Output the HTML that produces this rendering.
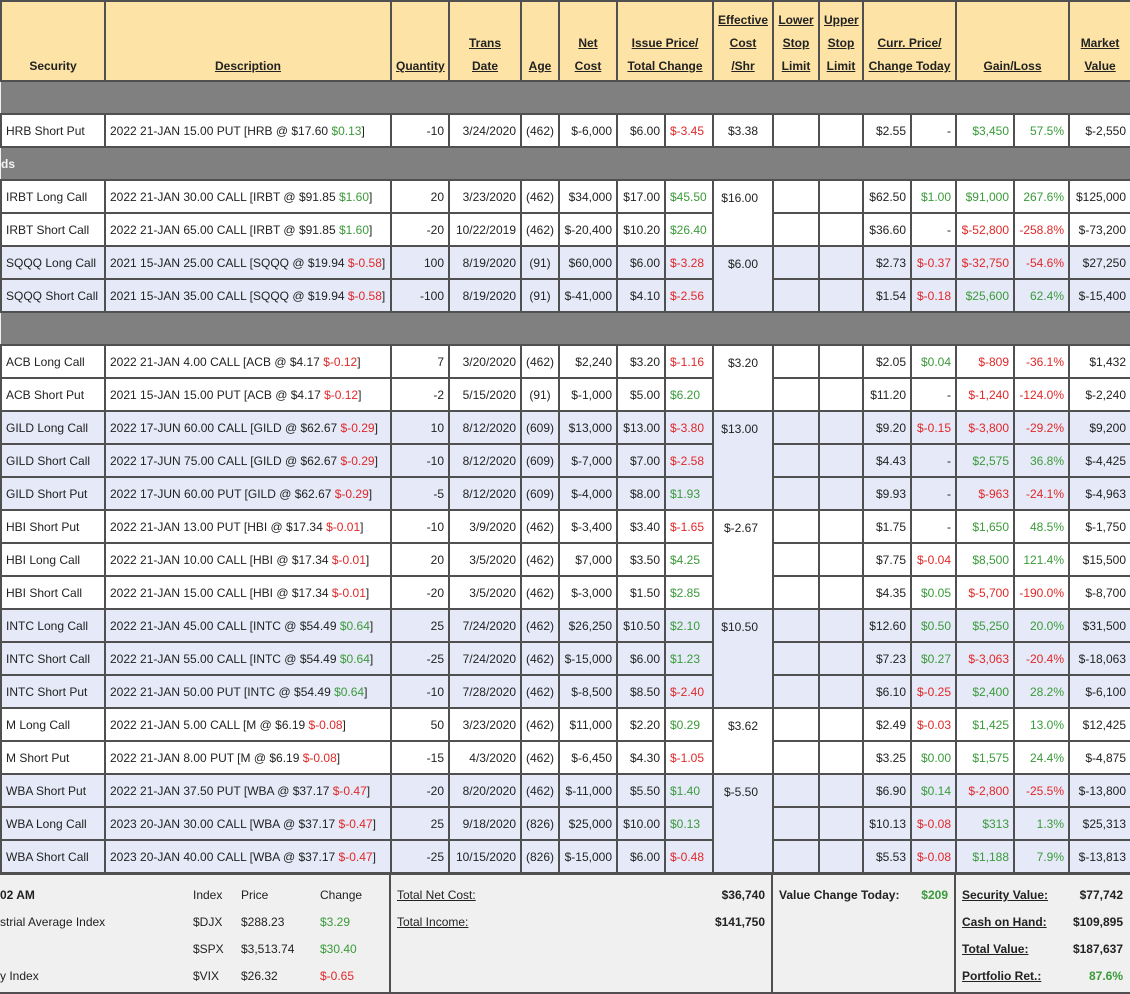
<!DOCTYPE html>
<html><head><meta charset="utf-8"><style>
body{margin:0;width:1130px;height:992px;overflow:hidden;background:#f0f0f0;font-family:"Liberation Sans",Arial,sans-serif;font-size:12px;color:#222}
table{border-collapse:collapse;table-layout:fixed;width:1130px;position:absolute;left:0;top:0}
td,th{border:2px solid #505050;padding:0 4px;height:31px;white-space:nowrap;overflow:hidden;background:#fff}
th{background:#fde3a6;height:76px;vertical-align:bottom;font-weight:bold;line-height:23px;padding-bottom:2px;text-align:center}
th u{text-decoration:underline}
tr.b td{background:#e6eaf8}
tr.s td{background:#808080;border-left:none;border-right:none;color:#f4f4f4;font-weight:bold;padding-left:0}
.r{text-align:right}.c{text-align:center}
.g{color:#3a9a3a}.n{color:#e02828}
td.e{vertical-align:top;padding-top:10px;text-align:right;padding-right:14px}
#f{position:absolute;left:0;top:873px;width:1130px;height:117px;border-top:2px solid #505050;border-bottom:2px solid #505050;background:#f0f0f0}
#f div{position:absolute;white-space:nowrap;line-height:14px}
.v{position:absolute;top:0;bottom:0;width:2px;background:#505050}
</style></head><body>
<table>
<colgroup><col style="width:104px"><col style="width:286px"><col style="width:58px"><col style="width:72px"><col style="width:38px"><col style="width:58px"><col style="width:48px"><col style="width:48px"><col style="width:60px"><col style="width:46px"><col style="width:44px"><col style="width:48px"><col style="width:45px"><col style="width:58px"><col style="width:55px"><col style="width:62px"></colgroup>
<tr><th>Security</th><th><u>Description</u></th><th><u>Quantity</u></th><th><u>Trans</u><br><u>Date</u></th><th><u>Age</u></th><th><u>Net</u><br><u>Cost</u></th><th colspan="2"><u>Issue Price/</u><br><u>Total Change</u></th><th><u>Effective</u><br><u>Cost</u><br><u>/Shr</u></th><th><u>Lower</u><br><u>Stop</u><br><u>Limit</u></th><th><u>Upper</u><br><u>Stop</u><br><u>Limit</u></th><th colspan="2"><u>Curr. Price/</u><br><u>Change Today</u></th><th colspan="2"><u>Gain/Loss</u></th><th><u>Market</u><br><u>Value</u></th></tr>
<tr class="s"><td colspan="16"></td></tr>
<tr><td>HRB Short Put</td><td>2022 21-JAN 15.00 PUT [HRB @ $17.60 <span class="g">$0.13</span>]</td><td class="r">-10</td><td class="r">3/24/2020</td><td class="c">(462)</td><td class="r">$-6,000</td><td class="r">$6.00</td><td class="n">$-3.45</td><td class="r" style="padding-right:14px">$3.38</td><td></td><td></td><td class="r">$2.55</td><td class="r">-</td><td class="r g">$3,450</td><td class="r g">57.5%</td><td class="r">$-2,550</td></tr>
<tr class="s"><td colspan="16">ds</td></tr>
<tr><td>IRBT Long Call</td><td>2022 21-JAN 30.00 CALL [IRBT @ $91.85 <span class="g">$1.60</span>]</td><td class="r">20</td><td class="r">3/23/2020</td><td class="c">(462)</td><td class="r">$34,000</td><td class="r">$17.00</td><td class="g">$45.50</td><td class="e" rowspan="2">$16.00</td><td></td><td></td><td class="r">$62.50</td><td class="r g">$1.00</td><td class="r g">$91,000</td><td class="r g">267.6%</td><td class="r">$125,000</td></tr>
<tr><td>IRBT Short Call</td><td>2022 21-JAN 65.00 CALL [IRBT @ $91.85 <span class="g">$1.60</span>]</td><td class="r">-20</td><td class="r">10/22/2019</td><td class="c">(462)</td><td class="r">$-20,400</td><td class="r">$10.20</td><td class="g">$26.40</td><td></td><td></td><td class="r">$36.60</td><td class="r">-</td><td class="r n">$-52,800</td><td class="r n">-258.8%</td><td class="r">$-73,200</td></tr>
<tr class="b"><td>SQQQ Long Call</td><td>2021 15-JAN 25.00 CALL [SQQQ @ $19.94 <span class="n">$-0.58</span>]</td><td class="r">100</td><td class="r">8/19/2020</td><td class="c">(91)</td><td class="r">$60,000</td><td class="r">$6.00</td><td class="n">$-3.28</td><td class="e" rowspan="2">$6.00</td><td></td><td></td><td class="r">$2.73</td><td class="r n">$-0.37</td><td class="r n">$-32,750</td><td class="r n">-54.6%</td><td class="r">$27,250</td></tr>
<tr class="b"><td>SQQQ Short Call</td><td>2021 15-JAN 35.00 CALL [SQQQ @ $19.94 <span class="n">$-0.58</span>]</td><td class="r">-100</td><td class="r">8/19/2020</td><td class="c">(91)</td><td class="r">$-41,000</td><td class="r">$4.10</td><td class="n">$-2.56</td><td></td><td></td><td class="r">$1.54</td><td class="r n">$-0.18</td><td class="r g">$25,600</td><td class="r g">62.4%</td><td class="r">$-15,400</td></tr>
<tr class="s"><td colspan="16"></td></tr>
<tr><td>ACB Long Call</td><td>2022 21-JAN 4.00 CALL [ACB @ $4.17 <span class="n">$-0.12</span>]</td><td class="r">7</td><td class="r">3/20/2020</td><td class="c">(462)</td><td class="r">$2,240</td><td class="r">$3.20</td><td class="n">$-1.16</td><td class="e" rowspan="2">$3.20</td><td></td><td></td><td class="r">$2.05</td><td class="r g">$0.04</td><td class="r n">$-809</td><td class="r n">-36.1%</td><td class="r">$1,432</td></tr>
<tr><td>ACB Short Put</td><td>2021 15-JAN 15.00 PUT [ACB @ $4.17 <span class="n">$-0.12</span>]</td><td class="r">-2</td><td class="r">5/15/2020</td><td class="c">(91)</td><td class="r">$-1,000</td><td class="r">$5.00</td><td class="g">$6.20</td><td></td><td></td><td class="r">$11.20</td><td class="r">-</td><td class="r n">$-1,240</td><td class="r n">-124.0%</td><td class="r">$-2,240</td></tr>
<tr class="b"><td>GILD Long Call</td><td>2022 17-JUN 60.00 CALL [GILD @ $62.67 <span class="n">$-0.29</span>]</td><td class="r">10</td><td class="r">8/12/2020</td><td class="c">(609)</td><td class="r">$13,000</td><td class="r">$13.00</td><td class="n">$-3.80</td><td class="e" rowspan="3">$13.00</td><td></td><td></td><td class="r">$9.20</td><td class="r n">$-0.15</td><td class="r n">$-3,800</td><td class="r n">-29.2%</td><td class="r">$9,200</td></tr>
<tr class="b"><td>GILD Short Call</td><td>2022 17-JUN 75.00 CALL [GILD @ $62.67 <span class="n">$-0.29</span>]</td><td class="r">-10</td><td class="r">8/12/2020</td><td class="c">(609)</td><td class="r">$-7,000</td><td class="r">$7.00</td><td class="n">$-2.58</td><td></td><td></td><td class="r">$4.43</td><td class="r">-</td><td class="r g">$2,575</td><td class="r g">36.8%</td><td class="r">$-4,425</td></tr>
<tr class="b"><td>GILD Short Put</td><td>2022 17-JUN 60.00 PUT [GILD @ $62.67 <span class="n">$-0.29</span>]</td><td class="r">-5</td><td class="r">8/12/2020</td><td class="c">(609)</td><td class="r">$-4,000</td><td class="r">$8.00</td><td class="g">$1.93</td><td></td><td></td><td class="r">$9.93</td><td class="r">-</td><td class="r n">$-963</td><td class="r n">-24.1%</td><td class="r">$-4,963</td></tr>
<tr><td>HBI Short Put</td><td>2022 21-JAN 13.00 PUT [HBI @ $17.34 <span class="n">$-0.01</span>]</td><td class="r">-10</td><td class="r">3/9/2020</td><td class="c">(462)</td><td class="r">$-3,400</td><td class="r">$3.40</td><td class="n">$-1.65</td><td class="e" rowspan="3">$-2.67</td><td></td><td></td><td class="r">$1.75</td><td class="r">-</td><td class="r g">$1,650</td><td class="r g">48.5%</td><td class="r">$-1,750</td></tr>
<tr><td>HBI Long Call</td><td>2022 21-JAN 10.00 CALL [HBI @ $17.34 <span class="n">$-0.01</span>]</td><td class="r">20</td><td class="r">3/5/2020</td><td class="c">(462)</td><td class="r">$7,000</td><td class="r">$3.50</td><td class="g">$4.25</td><td></td><td></td><td class="r">$7.75</td><td class="r n">$-0.04</td><td class="r g">$8,500</td><td class="r g">121.4%</td><td class="r">$15,500</td></tr>
<tr><td>HBI Short Call</td><td>2022 21-JAN 15.00 CALL [HBI @ $17.34 <span class="n">$-0.01</span>]</td><td class="r">-20</td><td class="r">3/5/2020</td><td class="c">(462)</td><td class="r">$-3,000</td><td class="r">$1.50</td><td class="g">$2.85</td><td></td><td></td><td class="r">$4.35</td><td class="r g">$0.05</td><td class="r n">$-5,700</td><td class="r n">-190.0%</td><td class="r">$-8,700</td></tr>
<tr class="b"><td>INTC Long Call</td><td>2022 21-JAN 45.00 CALL [INTC @ $54.49 <span class="g">$0.64</span>]</td><td class="r">25</td><td class="r">7/24/2020</td><td class="c">(462)</td><td class="r">$26,250</td><td class="r">$10.50</td><td class="g">$2.10</td><td class="e" rowspan="3">$10.50</td><td></td><td></td><td class="r">$12.60</td><td class="r g">$0.50</td><td class="r g">$5,250</td><td class="r g">20.0%</td><td class="r">$31,500</td></tr>
<tr class="b"><td>INTC Short Call</td><td>2022 21-JAN 55.00 CALL [INTC @ $54.49 <span class="g">$0.64</span>]</td><td class="r">-25</td><td class="r">7/24/2020</td><td class="c">(462)</td><td class="r">$-15,000</td><td class="r">$6.00</td><td class="g">$1.23</td><td></td><td></td><td class="r">$7.23</td><td class="r g">$0.27</td><td class="r n">$-3,063</td><td class="r n">-20.4%</td><td class="r">$-18,063</td></tr>
<tr class="b"><td>INTC Short Put</td><td>2022 21-JAN 50.00 PUT [INTC @ $54.49 <span class="g">$0.64</span>]</td><td class="r">-10</td><td class="r">7/28/2020</td><td class="c">(462)</td><td class="r">$-8,500</td><td class="r">$8.50</td><td class="n">$-2.40</td><td></td><td></td><td class="r">$6.10</td><td class="r n">$-0.25</td><td class="r g">$2,400</td><td class="r g">28.2%</td><td class="r">$-6,100</td></tr>
<tr><td>M Long Call</td><td>2022 21-JAN 5.00 CALL [M @ $6.19 <span class="n">$-0.08</span>]</td><td class="r">50</td><td class="r">3/23/2020</td><td class="c">(462)</td><td class="r">$11,000</td><td class="r">$2.20</td><td class="g">$0.29</td><td class="e" rowspan="2">$3.62</td><td></td><td></td><td class="r">$2.49</td><td class="r n">$-0.03</td><td class="r g">$1,425</td><td class="r g">13.0%</td><td class="r">$12,425</td></tr>
<tr><td>M Short Put</td><td>2022 21-JAN 8.00 PUT [M @ $6.19 <span class="n">$-0.08</span>]</td><td class="r">-15</td><td class="r">4/3/2020</td><td class="c">(462)</td><td class="r">$-6,450</td><td class="r">$4.30</td><td class="n">$-1.05</td><td></td><td></td><td class="r">$3.25</td><td class="r g">$0.00</td><td class="r g">$1,575</td><td class="r g">24.4%</td><td class="r">$-4,875</td></tr>
<tr class="b"><td>WBA Short Put</td><td>2022 21-JAN 37.50 PUT [WBA @ $37.17 <span class="n">$-0.47</span>]</td><td class="r">-20</td><td class="r">8/20/2020</td><td class="c">(462)</td><td class="r">$-11,000</td><td class="r">$5.50</td><td class="g">$1.40</td><td class="e" rowspan="3">$-5.50</td><td></td><td></td><td class="r">$6.90</td><td class="r g">$0.14</td><td class="r n">$-2,800</td><td class="r n">-25.5%</td><td class="r">$-13,800</td></tr>
<tr class="b"><td>WBA Long Call</td><td>2023 20-JAN 30.00 CALL [WBA @ $37.17 <span class="n">$-0.47</span>]</td><td class="r">25</td><td class="r">9/18/2020</td><td class="c">(826)</td><td class="r">$25,000</td><td class="r">$10.00</td><td class="g">$0.13</td><td></td><td></td><td class="r">$10.13</td><td class="r n">$-0.08</td><td class="r g">$313</td><td class="r g">1.3%</td><td class="r">$25,313</td></tr>
<tr class="b"><td>WBA Short Call</td><td>2023 20-JAN 40.00 CALL [WBA @ $37.17 <span class="n">$-0.47</span>]</td><td class="r">-25</td><td class="r">10/15/2020</td><td class="c">(826)</td><td class="r">$-15,000</td><td class="r">$6.00</td><td class="n">$-0.48</td><td></td><td></td><td class="r">$5.53</td><td class="r n">$-0.08</td><td class="r g">$1,188</td><td class="r g">7.9%</td><td class="r">$-13,813</td></tr>
</table>
<div id="f">
<div class="v" style="left:389px"></div><div class="v" style="left:771px"></div><div class="v" style="left:954px"></div>
<div style="left:0;top:13px;font-weight:bold">02 AM</div>
<div style="left:193px;top:13px">Index</div><div style="left:241px;top:13px">Price</div><div style="left:320px;top:13px">Change</div>
<div style="left:0;top:40px">strial Average Index</div>
<div style="left:193px;top:40px">$DJX</div><div style="left:241px;top:40px">$288.23</div><div style="left:320px;top:40px" class="g">$3.29</div>
<div style="left:193px;top:67px">$SPX</div><div style="left:241px;top:67px">$3,513.74</div><div style="left:320px;top:67px" class="g">$30.40</div>
<div style="left:0;top:94px">y Index</div>
<div style="left:193px;top:94px">$VIX</div><div style="left:241px;top:94px">$26.32</div><div style="left:320px;top:94px" class="n">$-0.65</div>
<div style="left:397px;top:13px;text-decoration:underline">Total Net Cost:</div><div style="right:365px;top:13px;font-weight:bold">$36,740</div>
<div style="left:397px;top:40px;text-decoration:underline">Total Income:</div><div style="right:365px;top:40px;font-weight:bold">$141,750</div>
<div style="left:779px;top:13px;font-weight:bold">Value Change Today:</div><div style="right:182px;top:13px;font-weight:bold" class="g">$209</div>
<div style="left:962px;top:13px;font-weight:bold;text-decoration:underline">Security Value:</div><div style="right:7px;top:13px;font-weight:bold">$77,742</div>
<div style="left:962px;top:40px;font-weight:bold;text-decoration:underline">Cash on Hand:</div><div style="right:7px;top:40px;font-weight:bold">$109,895</div>
<div style="left:962px;top:67px;font-weight:bold;text-decoration:underline">Total Value:</div><div style="right:7px;top:67px;font-weight:bold">$187,637</div>
<div style="left:962px;top:94px;font-weight:bold;text-decoration:underline">Portfolio Ret.:</div><div style="right:7px;top:94px;font-weight:bold" class="g">87.6%</div>
</div>
</body></html>
